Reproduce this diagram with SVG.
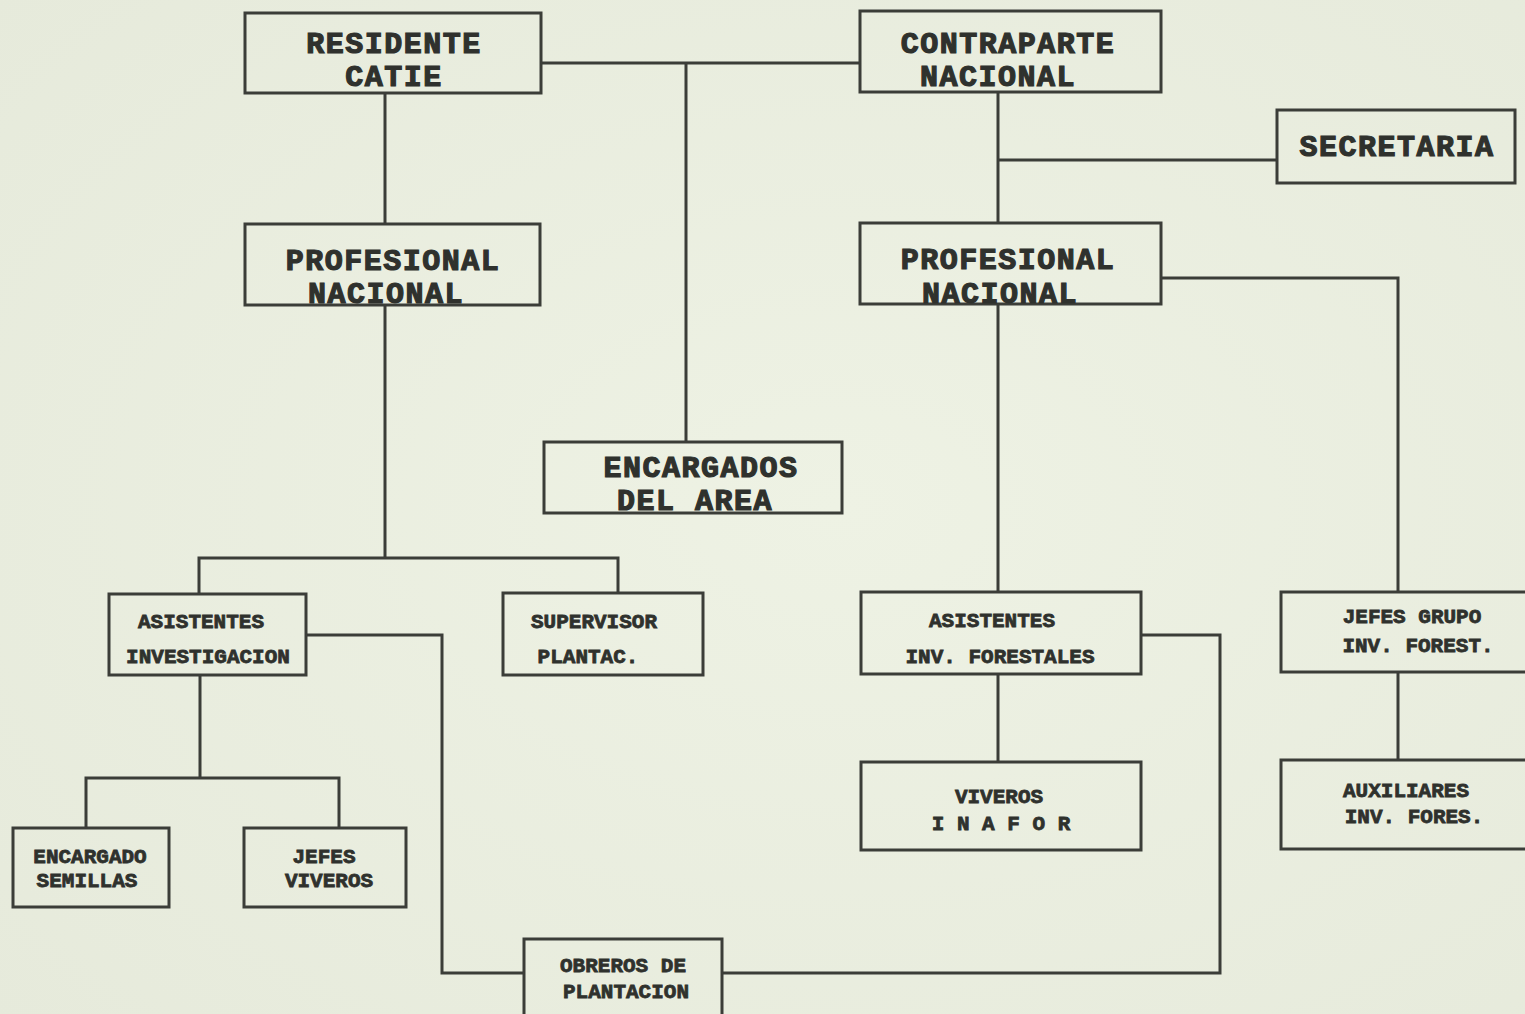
<svg xmlns="http://www.w3.org/2000/svg" width="1525" height="1014" viewBox="0 0 1525 1014">
<defs>
<radialGradient id="bg" cx="0.55" cy="0.5" r="0.75">
<stop offset="0" stop-color="#eef2e4"/>
<stop offset="1" stop-color="#e6eadb"/>
</radialGradient>
</defs>
<style>
.box{fill:none;stroke:#3b3d38;stroke-width:3}
.ln{fill:none;stroke:#3b3d38;stroke-width:3}
.big{font-family:"Liberation Mono",monospace;font-weight:bold;font-size:30px;letter-spacing:1.5px;fill:#2f312d;stroke:#2f312d;stroke-width:1.2;text-anchor:middle}
.sm{font-family:"Liberation Mono",monospace;font-weight:bold;font-size:21px;fill:#2f312d;stroke:#2f312d;stroke-width:0.8;text-anchor:middle}
</style>
<rect x="0" y="0" width="1525" height="1014" fill="url(#bg)"/>
<g id="connectors">
<path class="ln" d="M541 63 H860"/>
<path class="ln" d="M686 63 V442"/>
<path class="ln" d="M385 93 V224"/>
<path class="ln" d="M998 92 V223"/>
<path class="ln" d="M998 160 H1277"/>
<path class="ln" d="M1161 278 H1398 V592"/>
<path class="ln" d="M385 305 V558"/>
<path class="ln" d="M199 594 V558 H618 V593"/>
<path class="ln" d="M306 635 H442 V973 H524"/>
<path class="ln" d="M200 675 V778"/>
<path class="ln" d="M86 828 V778 H339 V828"/>
<path class="ln" d="M998 304 V592"/>
<path class="ln" d="M998 674 V762"/>
<path class="ln" d="M1141 635 H1220 V973 H722"/>
<path class="ln" d="M1398 672 V760"/>
</g>
<g id="residente"><rect class="box" x="245" y="13" width="296" height="80"/><text class="big" x="394" y="53">RESIDENTE</text><text class="big" x="394" y="86">CATIE</text></g>
<g id="contraparte"><rect class="box" x="860" y="11" width="301" height="81"/><text class="big" x="1008" y="53">CONTRAPARTE</text><text class="big" x="998" y="86">NACIONAL</text></g>
<g id="secretaria"><rect class="box" x="1277" y="110" width="238" height="73"/><text class="big" x="1397" y="156">SECRETARIA</text></g>
<g id="profesional-izq"><rect class="box" x="245" y="224" width="295" height="81"/><text class="big" x="393" y="270">PROFESIONAL</text><text class="big" x="386" y="303">NACIONAL</text></g>
<g id="profesional-der"><rect class="box" x="860" y="223" width="301" height="81"/><text class="big" x="1008" y="269">PROFESIONAL</text><text class="big" x="1000" y="303">NACIONAL</text></g>
<g id="encargados-area"><rect class="box" x="544" y="442" width="298" height="71"/><text class="big" x="701" y="477">ENCARGADOS</text><text class="big" x="695" y="510">DEL AREA</text></g>
<g id="asistentes-investigacion"><rect class="box" x="109" y="594" width="197" height="81"/><text class="sm" x="201" y="628">ASISTENTES</text><text class="sm" x="208" y="663">INVESTIGACION</text></g>
<g id="supervisor"><rect class="box" x="503" y="593" width="200" height="82"/><text class="sm" x="594" y="628">SUPERVISOR</text><text class="sm" x="588" y="663">PLANTAC.</text></g>
<g id="asistentes-forestales"><rect class="box" x="861" y="592" width="280" height="82"/><text class="sm" x="992" y="627">ASISTENTES</text><text class="sm" x="1000" y="663">INV. FORESTALES</text></g>
<g id="jefes-grupo"><rect class="box" x="1281" y="592" width="260" height="80"/><text class="sm" x="1412" y="623">JEFES GRUPO</text><text class="sm" x="1418" y="652">INV. FOREST.</text></g>
<g id="encargado-semillas"><rect class="box" x="13" y="828" width="156" height="79"/><text class="sm" x="90" y="863">ENCARGADO</text><text class="sm" x="87" y="887">SEMILLAS</text></g>
<g id="jefes-viveros"><rect class="box" x="244" y="828" width="162" height="79"/><text class="sm" x="324" y="863">JEFES</text><text class="sm" x="329" y="887">VIVEROS</text></g>
<g id="viveros-inafor"><rect class="box" x="861" y="762" width="280" height="88"/><text class="sm" x="999" y="803">VIVEROS</text><text class="sm" x="1001" y="830">I N A F O R</text></g>
<g id="auxiliares"><rect class="box" x="1281" y="760" width="260" height="89"/><text class="sm" x="1406" y="797">AUXILIARES</text><text class="sm" x="1414" y="823">INV. FORES.</text></g>
<g id="obreros"><rect class="box" x="524" y="939" width="198" height="90"/><text class="sm" x="623" y="972">OBREROS DE</text><text class="sm" x="626" y="998">PLANTACION</text></g>
</svg>
